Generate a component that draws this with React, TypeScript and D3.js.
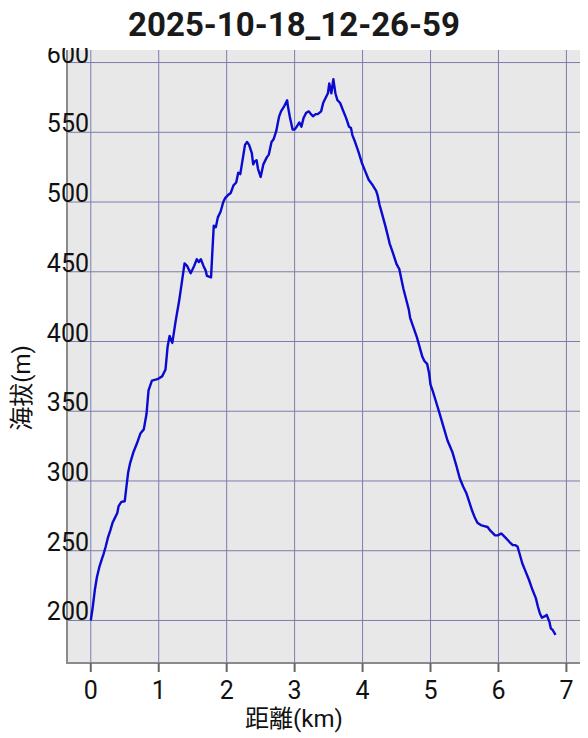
import React from "react";
import * as d3 from "d3";

const title = "2025-10-18_12-26-59";
const xLabel = "距離(km)";
const yLabel = "海拔(m)";
const xTicks = [0, 1, 2, 3, 4, 5, 6, 7];
const yTicks = [200, 250, 300, 350, 400, 450, 500, 550, 600];

const distKm = [
  0, 0.03, 0.06, 0.09, 0.13, 0.17, 0.19, 0.22, 0.25, 0.29, 0.32, 0.35, 0.39, 0.41, 0.45, 0.5, 0.52, 0.55, 0.58, 0.63,
  0.68, 0.73, 0.78, 0.82,
  0.85, 0.9, 0.98, 1.05, 1.1, 1.13, 1.16, 1.2, 1.25, 1.3, 1.33, 1.38, 1.42, 1.47, 1.52, 1.56, 1.59, 1.62, 1.66, 1.69,
  1.71, 1.77, 1.79, 1.81, 1.84, 1.87, 1.91, 1.95, 1.98, 2.02, 2.06, 2.1, 2.14, 2.17, 2.2, 2.24, 2.27, 2.3, 2.33, 2.37,
  2.39, 2.41, 2.44, 2.46, 2.5, 2.54, 2.59, 2.62, 2.66, 2.69, 2.73, 2.77, 2.8, 2.85, 2.89, 2.9, 2.93, 2.97, 3.0, 3.03,
  3.07, 3.1, 3.13, 3.17, 3.21, 3.24, 3.27, 3.31, 3.34, 3.39, 3.42, 3.45, 3.49, 3.51, 3.54, 3.57, 3.6, 3.63, 3.67, 3.71,
  3.76, 3.8, 3.83, 3.85, 3.89, 3.94, 3.99, 4.04, 4.09, 4.15, 4.2, 4.22, 4.25, 4.29, 4.34, 4.38, 4.4, 4.45, 4.5, 4.54,
  4.57, 4.6, 4.64, 4.68, 4.7, 4.75, 4.8, 4.84, 4.88, 4.91, 4.95, 4.98, 5.0, 5.03, 5.08, 5.13, 5.19, 5.25, 5.32, 5.38,
  5.43, 5.48, 5.53, 5.57, 5.61, 5.65, 5.69, 5.74, 5.79, 5.84, 5.87, 5.91, 5.95, 5.99, 6.04, 6.07, 6.11, 6.16, 6.21, 6.25,
  6.28, 6.31, 6.35, 6.4, 6.45, 6.5, 6.55, 6.58, 6.61, 6.64, 6.67, 6.71, 6.75, 6.77, 6.8, 6.84,
];
const elevM = [
  200, 210, 222, 231, 239, 245, 248, 253, 259, 265, 270, 273, 277, 282, 285, 285.5, 294, 306, 313, 321,
  327, 334, 337, 348,
  365, 372, 373, 375, 380, 396, 404, 399, 415, 429, 439, 456, 454, 449, 454, 459, 457, 459, 454, 451,
  447, 446, 465, 483, 482, 489, 493, 500, 503, 505, 506.5, 512, 514, 521, 520, 532, 541, 543, 541, 535,
  527, 529, 530, 524, 518, 527, 532, 534, 543, 545, 551, 561, 565, 569, 573, 569, 561, 552, 552, 554,
  557, 554, 560, 564, 565, 563, 561.5, 563, 563, 565, 571, 574, 578, 585, 578, 588, 578, 573, 571, 566,
  560, 554, 553, 548, 543, 536, 528, 522, 516, 512, 508, 505, 498, 491, 482, 474, 470, 463, 455.5, 452,
  445, 438, 430.5, 423, 417, 410, 403, 396, 389, 386, 384, 377, 369, 365, 357, 349, 339, 329, 321, 311,
  302, 296, 291, 285, 279, 274, 270, 268.4, 267.7, 267, 265, 263, 261, 261, 262.4, 261, 259, 256.4, 254, 254,
  253, 248, 241, 235, 229, 222, 216, 210, 205, 202, 202.7, 204, 199, 194.4, 193, 189.6,
];

const W = 588;
const H = 738;
const left = 67;
const right = 580;
const top = 50;
const bottom = 663;

export default function App() {
  const x = d3.scaleLinear().domain([-0.35, 7.2]).range([left, right]);
  const y = d3.scaleLinear().domain([169.5, 609]).range([bottom, top]);
  const pts: [number, number][] = distKm.map((d, i) => [d, elevM[i]]);
  const line = d3
    .line<[number, number]>()
    .x((d) => x(d[0]))
    .y((d) => y(d[1]))
    .curve(d3.curveLinear);
  const font = "Roboto, 'Noto Sans CJK JP', sans-serif";
  const grid = "#7c7cac";
  return (
    <svg
      width={W}
      height={H}
      style={{ position: "absolute", left: 0, top: 0, background: "#fff" }}
      fontFamily={font}
    >
      <defs>
        <clipPath id="lblclip">
          <rect x={0} y={48} width={W} height={H - 48} />
        </clipPath>
      </defs>
      <rect x={left} y={top} width={right - left} height={bottom - top} fill="#e8e8e8" />
      {xTicks.map((t) => (
        <line key={"gx" + t} x1={x(t)} x2={x(t)} y1={top} y2={bottom} stroke={grid} strokeWidth={1} />
      ))}
      {yTicks.map((t) => (
        <line key={"gy" + t} x1={left} x2={right} y1={y(t)} y2={y(t)} stroke={grid} strokeWidth={1} />
      ))}
      <line x1={left} x2={left} y1={top} y2={bottom} stroke="#8a8a8a" strokeWidth={2} />
      <line x1={left - 1} x2={right} y1={bottom} y2={bottom} stroke="#8a8a8a" strokeWidth={2} />
      {xTicks.map((t) => (
        <line key={"tx" + t} x1={x(t)} x2={x(t)} y1={bottom} y2={bottom + 9} stroke="#666" strokeWidth={2} />
      ))}
      <path d={line(pts) || ""} fill="none" stroke="#0a0ad0" strokeWidth={2.4} strokeLinejoin="round" />
      <g clipPath="url(#lblclip)">
        {yTicks.map((t) => (
          <text key={"ly" + t} x={89} y={y(t)} textAnchor="end" fontSize={25} fill="#111">
            {t}
          </text>
        ))}
      </g>
      {xTicks.map((t) => (
        <text key={"lx" + t} x={x(t)} y={699} textAnchor="middle" fontSize={25} fill="#111">
          {t}
        </text>
      ))}
      <text x={294} y={727} textAnchor="middle" fontSize={24} fill="#111">
        {xLabel}
      </text>
      <text
        transform={`translate(30,388) rotate(-90)`}
        textAnchor="middle"
        fontSize={24}
        fill="#111"
      >
        {yLabel}
      </text>
      <text x={294} y={36} textAnchor="middle" fontSize={33} fontWeight="bold" fill="#1a1a1a">
        {title}
      </text>
    </svg>
  );
}
